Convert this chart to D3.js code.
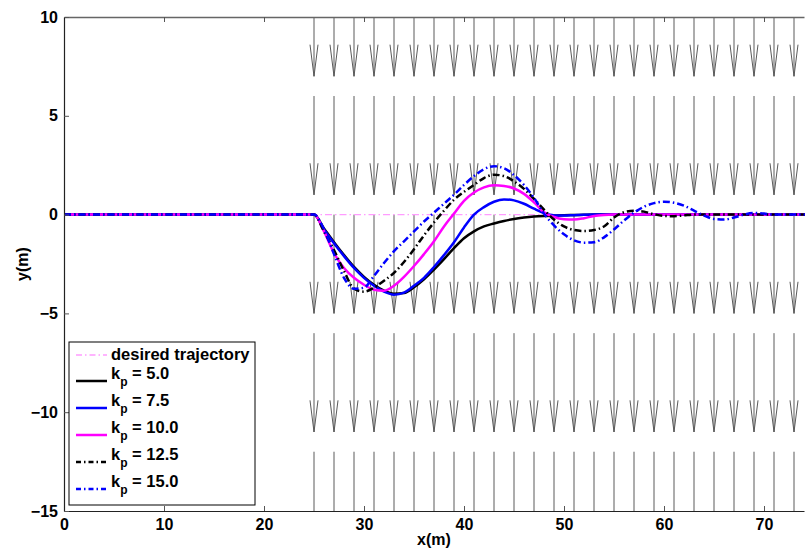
<!DOCTYPE html>
<html>
<head>
<meta charset="utf-8">
<script src="https://cdn.jsdelivr.net/npm/d3@7"></script>
<style>
  body { margin: 0; background: #fff; }
  svg text { font-family: "Liberation Sans", Arial, Helvetica, sans-serif; font-weight: bold; }
</style>
</head>
<body>
<svg id="chart" width="805" height="550"></svg>
<script>
// ---------------- DATA ----------------
const xValues = [0, 25, 26, 27, 28, 29, 30, 31, 32, 33, 34, 35, 36, 37, 38, 39, 40, 41, 42, 43, 44, 45, 46, 47, 48,
  49, 50, 51, 52, 53, 54, 55, 56, 57, 58, 59, 60, 61, 62, 63, 64, 65, 66, 67, 68, 69, 70, 71, 72, 75];

const yKp5 = [0, 0, -0.7, -1.4, -2.05, -2.65, -3.15, -3.55, -3.85, -4.0, -3.97, -3.68, -3.28, -2.78, -2.25, -1.7, -1.2,
  -0.85, -0.6, -0.45, -0.32, -0.22, -0.15, -0.1, -0.07, -0.05, -0.03, -0.02, -0.01,
  0, 0, 0, 0, 0, 0, 0, 0, 0, 0, 0, 0, 0, 0, 0, 0, 0, 0, 0, 0, 0];
const yKp75 = [0, 0, -0.75, -1.45, -2.1, -2.7, -3.2, -3.6, -3.9, -4.05, -3.95, -3.6, -3.2, -2.65, -2.05, -1.4, -0.65,
  0.0, 0.38, 0.65, 0.77, 0.72, 0.55, 0.3, 0.08, -0.04, -0.05, -0.03, -0.01,
  0, 0, 0, 0, 0, 0, 0, 0, 0, 0, 0, 0, 0, 0, 0, 0, 0, 0, 0, 0, 0];
const yKp10 = [0, 0, -0.85, -1.95, -2.7, -3.2, -3.55, -3.8, -3.85, -3.6, -3.15, -2.6, -2.0, -1.35, -0.6, 0.05, 0.7,
  1.12, 1.38, 1.48, 1.45, 1.32, 1.05, 0.62, 0.12, -0.12, -0.23, -0.25, -0.18, -0.07, -0.02,
  0, 0, 0, 0, 0, 0, 0, 0, 0, 0, 0, 0, 0, 0, 0, 0, 0, 0, 0];
const yKp125 = [0, 0, -0.85, -1.8, -2.85, -3.75, -3.9, -3.7, -3.35, -2.95, -2.4, -1.75, -1.05, -0.4, 0.2, 0.75, 1.15,
  1.5, 1.85, 2.02, 1.95, 1.68, 1.3, 0.8, 0.25, -0.25, -0.6, -0.78, -0.83, -0.78, -0.6, -0.15, 0.12, 0.2, 0.15,
  0.02, -0.07, -0.08, -0.04, 0, 0, 0, 0, 0, 0, 0, 0, 0, 0, 0];
const yKp15 = [0, 0, -0.75, -2.0, -3.2, -3.75, -3.7, -3.1, -2.45, -1.85, -1.35, -0.85, -0.35, 0.1, 0.55, 1.0, 1.5,
  1.95, 2.3, 2.45, 2.35, 2.0, 1.5, 0.85, 0.05, -0.55, -1.0, -1.3, -1.42, -1.4, -1.15, -0.75, -0.3, 0.1, 0.4,
  0.58, 0.65, 0.6, 0.45, 0.2, -0.05, -0.22, -0.25, -0.15, 0.0, 0.08, 0.05, 0.0, 0, 0];
const yDesired = xValues.map(() => 0);

const seriesNames = ["desired trajectory", "5.0", "7.5", "10.0", "12.5", "15.0"];

// quiver field (disturbance arrows)
const arrowX = [25, 27, 29, 31, 33, 35, 37, 39, 41, 43, 45, 47, 49, 51, 53, 55, 57, 59, 61, 63, 65, 67, 69, 71, 73];
const arrowStartY = [12, 6, 0, -6, -12];
const arrowLength = 5;

const xTicks = [0, 10, 20, 30, 40, 50, 60, 70];
const yTicks = [-15, -10, -5, 0, 5, 10];

// ---------------- LAYOUT ----------------
const svg = d3.select("#chart");
const L = 64, T = 17, B = 511, R = 804;
const x = d3.scaleLinear().domain([0, 74]).range([L, R]);
const y = d3.scaleLinear().domain([-15, 10]).range([B, T]);

svg.append("defs").append("clipPath").attr("id", "plotclip")
  .append("rect").attr("x", L).attr("y", T).attr("width", 805 - L).attr("height", B - T);

const plot = svg.append("g").attr("clip-path", "url(#plotclip)");

// arrows
const arrowG = plot.append("g").attr("stroke", "#5a5a5a").attr("stroke-width", 1).attr("fill", "none");
const headLen = 1.6, headHalf = 0.4;
arrowStartY.forEach(y0 => {
  arrowX.forEach(ax => {
    const yt = y0 - arrowLength;
    arrowG.append("line")
      .attr("x1", x(ax)).attr("y1", y(y0)).attr("x2", x(ax)).attr("y2", y(yt));
    arrowG.append("path")
      .attr("d", `M${x(ax - headHalf)},${y(yt + headLen)}L${x(ax)},${y(yt)}L${x(ax + headHalf)},${y(yt + headLen)}`);
  });
});

// lines
const styles = [
  { data: yDesired, color: "#ff9cff", width: 1.3, dash: "7,3,1.5,3" },
  { data: yKp5, color: "#000000", width: 2.5, dash: null },
  { data: yKp75, color: "#0000ff", width: 2.5, dash: null },
  { data: yKp10, color: "#ff00ff", width: 2.5, dash: null },
  { data: yKp125, color: "#000000", width: 2.5, dash: "7,3,1.5,3" },
  { data: yKp15, color: "#0000ff", width: 2.5, dash: "7,3,1.5,3" }
];
const lineGen = d3.line().x(d => x(d[0])).y(d => y(d[1])).curve(d3.curveMonotoneX);
styles.forEach(s => {
  plot.append("path")
    .datum(xValues.map((xv, i) => [xv, s.data[i]]))
    .attr("d", lineGen)
    .attr("fill", "none")
    .attr("stroke", s.color)
    .attr("stroke-width", s.width)
    .attr("stroke-dasharray", s.dash);
});

// axes frame
const fmt = d => d3.format("d")(d).replace("-", "\u2212");
const xAxisB = svg.append("g").attr("transform", `translate(0,${B})`)
  .call(d3.axisBottom(x).tickValues(xTicks).tickSize(-5).tickSizeOuter(0).tickPadding(8).tickFormat(fmt));
const xAxisT = svg.append("g").attr("transform", `translate(0,${T})`)
  .call(d3.axisTop(x).tickValues(xTicks).tickSize(-5).tickSizeOuter(0).tickFormat(""));
const yAxisL = svg.append("g").attr("transform", `translate(${L},0)`)
  .call(d3.axisLeft(y).tickValues(yTicks).tickSize(-5).tickSizeOuter(0).tickPadding(6).tickFormat(fmt));

[xAxisB, xAxisT, yAxisL].forEach(g => {
  g.select(".domain").attr("stroke", "#222").attr("stroke-width", 1.2);
  g.selectAll(".tick line").attr("stroke", "#555");
  g.selectAll("text").attr("font-size", 16).attr("fill", "#000")
    .style("font-family", "'Liberation Sans', Arial, sans-serif").style("font-weight", "bold");
});
xAxisB.selectAll(".tick text").attr("dy", "0.7em");
xAxisT.select(".domain").attr("stroke", "#666").attr("stroke-width", 1.5);

// axis labels
svg.append("text").attr("x", (L + R) / 2).attr("y", 545).attr("text-anchor", "middle")
  .attr("font-size", 16).text("x(m)");
svg.append("text").attr("transform", `translate(28,${(T + B) / 2}) rotate(-90)`).attr("text-anchor", "middle")
  .attr("font-size", 16).text("y(m)");

// legend
const lg = svg.append("g");
lg.append("rect").attr("x", 69).attr("y", 342).attr("width", 186).attr("height", 163)
  .attr("fill", "#fff").attr("stroke", "#000").attr("stroke-width", 1);
const rowY = [355, 381, 408, 435, 462, 489];
styles.forEach((s, i) => {
  const yy = rowY[i];
  lg.append("line").attr("x1", 76).attr("x2", 107).attr("y1", yy).attr("y2", yy)
    .attr("stroke", s.color).attr("stroke-width", i === 0 ? 1.3 : 2.5)
    .attr("stroke-dasharray", s.dash ? (i === 0 ? "6,3,1.5,3" : "5,3,1.5,3") : null);
  if (i === 0) {
    lg.append("text").attr("x", 111).attr("y", yy + 5).attr("font-size", 16.5).text(seriesNames[i]);
  } else {
    const t = lg.append("text").attr("x", 111).attr("y", yy - 2).attr("font-size", 16.5);
    t.append("tspan").text("k");
    t.append("tspan").attr("font-size", 12).attr("dy", 7).text("p");
    t.append("tspan").attr("dy", -7).text(" = " + seriesNames[i]);
  }
});
</script>
</body>
</html>
